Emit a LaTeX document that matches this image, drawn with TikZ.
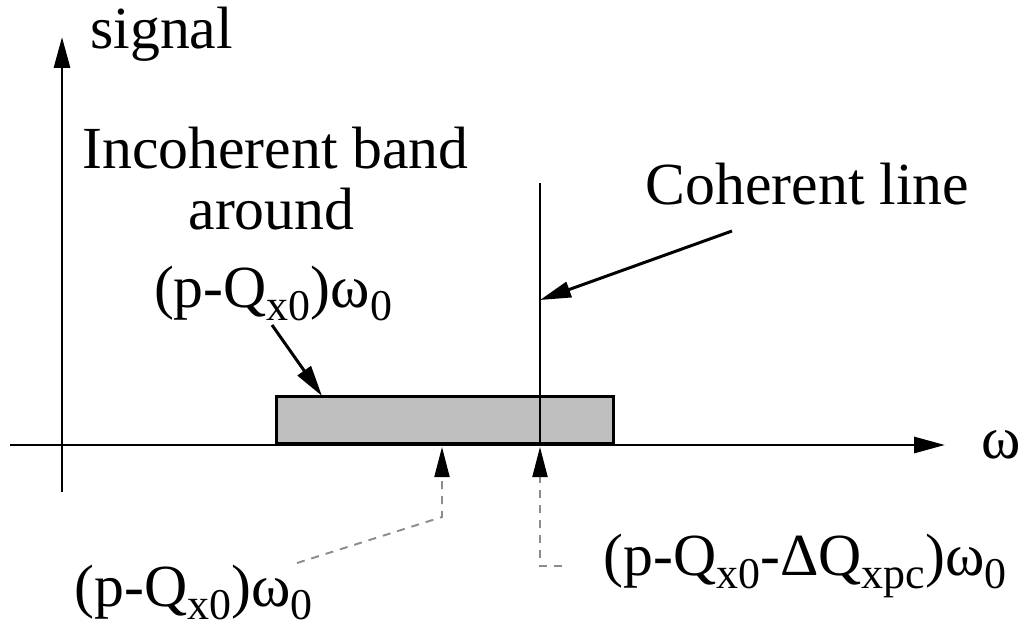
\documentclass[tikz,border=0pt]{standalone}
\usepackage{fontspec}
\setmainfont{Liberation Serif}
\newfontfamily\labelface{Liberation Serif}
\usetikzlibrary{arrows.meta,positioning,calc}
\newcommand{\lowsub}[1]{\raisebox{-0.22em}{\fontsize{25}{25}\selectfont #1}}
\tikzset{
  axis/.style    ={line width=1.7pt,-{Triangle[length=6.2mm,width=3.2mm]}},
  lbl/.style     ={inner sep=0pt,font=\labelface\fontsize{34}{40}\selectfont},
  band/.style    ={draw,line width=1.5pt,fill=black!25,inner sep=0pt,anchor=south west},
  cohline/.style ={line width=1.1pt},
  pointer/.style ={line width=1.7pt,-{Triangle[length=6.2mm,width=3.2mm]}},
  leader/.style  ={draw=black!45,line width=1.1pt,dash pattern=on 1.6mm off 1.4mm,
                   -{Triangle[length=6mm,width=3mm,color=black]}},
}

\begin{document}
\begin{tikzpicture}
  \useasboundingbox (-1.24,-3.68) rectangle (19.42,8.9);
  % band of incoherent signal
  \node[band,minimum width=6.74cm,minimum height=0.94cm] (bandbox) at (4.26,0) {};
  \draw[axis] (-1.04,0) -- (17.66,0);
  \draw[axis] (0,-0.94) -- (0,8.16);
  \draw[cohline] (9.56,0) -- (9.56,5.24);

  \node[lbl,anchor=base west] (sig) at (0.56,7.92) {signal};
  \node[lbl,anchor=base] (omega) at (18.78,-0.26) {ω};
  \node[lbl,anchor=base] (inc1) at (4.27,5.52) {Incoherent band};
  \node[lbl,anchor=base] (inc2) at (4.19,4.3) {around};
  \node[lbl,anchor=base] (inc3) at (4.22,2.76) {(p-Q\lowsub{x0})ω\lowsub{0}};
  \node[lbl,anchor=base] (coh) at (14.91,4.8) {Coherent line};
  \node[lbl,anchor=base] (incq) at (2.63,-3.22) {(p-Q\lowsub{x0})ω\lowsub{0}};
  \node[lbl,anchor=base] (cohq) at (14.86,-2.6) {(p-Q\lowsub{x0}-ΔQ\lowsub{xpc})ω\lowsub{0}};

  \coordinate (incfrom) at (4.2,2.4);
  \coordinate (bandtip) at (5.2,0.98);
  \coordinate (cohfrom) at (13.4,4.28);
  \coordinate (cohtip)  at (9.56,2.9);
  \draw[pointer] (incfrom) -- (bandtip);
  \draw[pointer] (cohfrom) -- (cohtip);

  % leaders from the axis labels
  \coordinate (tipA) at (7.6,-0.04);
  \coordinate (kneeA) at (7.6,-1.44);
  \coordinate (endA) at (4.7,-2.36);
  \coordinate (tipB) at (9.56,-0.04);
  \coordinate (kneeB) at (9.56,-2.42);
  \coordinate (endB) at (10.0,-2.42);
  \draw[leader] (endA) -- (kneeA) -- (tipA);
  \draw[leader] (endB) -- (kneeB) -- (tipB);
\end{tikzpicture}
\end{document}
